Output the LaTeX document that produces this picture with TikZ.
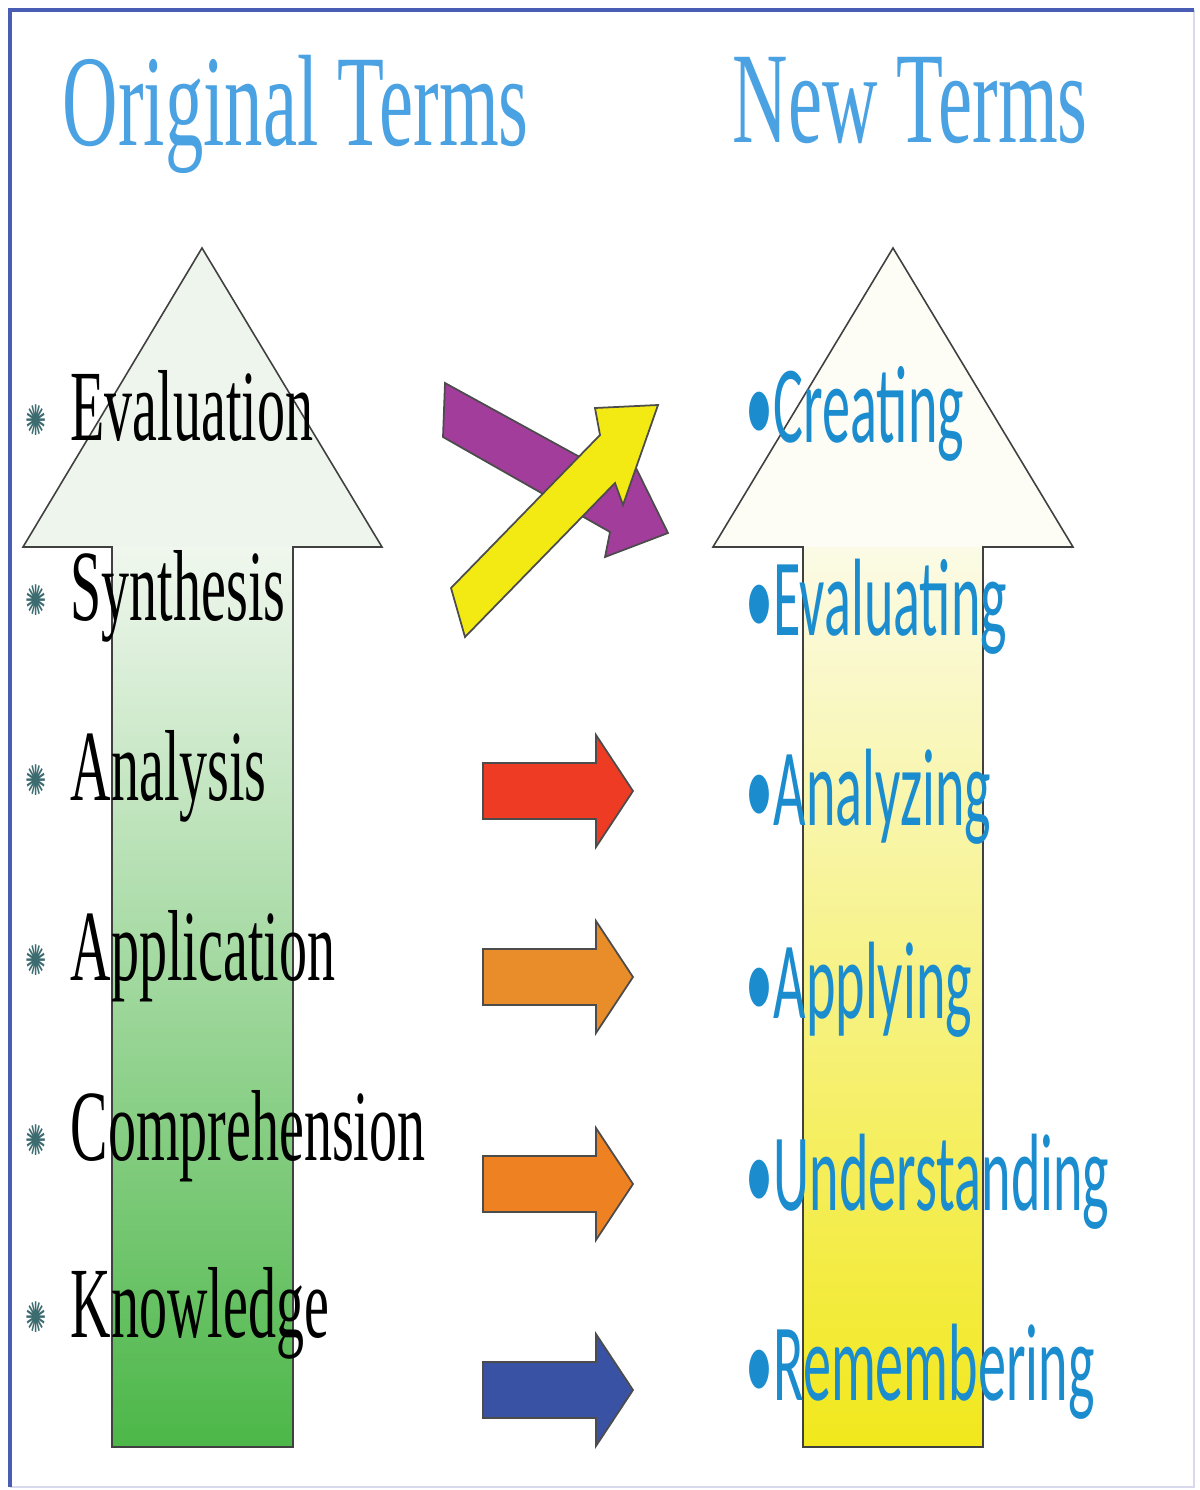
\documentclass[tikz,border=0pt]{standalone}
\usepackage{fontspec}
\setmainfont{Liberation Serif}
\newfontfamily\oldtermfont[FakeStretch=0.555]{Liberation Serif}
\newfontfamily\headingfont[FakeStretch=0.59]{Liberation Serif}
\newfontfamily\newtermfont[FakeStretch=0.51]{Carlito}
\newfontfamily\bulletfont[FakeStretch=0.6]{DejaVu Sans}
\usepackage{tikz}
\usetikzlibrary{positioning}

\definecolor{frameblue}{HTML}{4A5DB5}
\definecolor{framefaint}{HTML}{D9D9EE}
\definecolor{headingblue}{HTML}{4AA2E3}
\definecolor{termblue}{HTML}{1B8DCF}
\definecolor{bulletteal}{HTML}{3C6C70}
\definecolor{oldhead}{HTML}{EEF5EC}
\definecolor{oldtop}{HTML}{F0F7EE}
\definecolor{oldbottom}{HTML}{4CB748}
\definecolor{newhead}{HTML}{FDFDF6}
\definecolor{newtop}{HTML}{FBFBE6}
\definecolor{newbottom}{HTML}{F2E81C}
\definecolor{arrowred}{HTML}{EE3B24}
\definecolor{arrowamber}{HTML}{E98C2A}
\definecolor{arroworange}{HTML}{EE8122}
\definecolor{arrowblue}{HTML}{3A52A4}
\definecolor{arrowpurple}{HTML}{A23D9B}
\definecolor{arrowyellow}{HTML}{F2EA12}

\begin{document}
\begin{tikzpicture}[x=0.01cm, y=-0.01cm,
		bigarrow/.style={draw=black!75, line width=0.45pt, line join=miter},
		blockarrow/.style={draw=black!70, line width=0.5pt, line join=miter},
		heading/.style={anchor=base west, inner sep=0pt, text=headingblue, font=\headingfont\fontsize{37}{40}\selectfont},
		oldterm/.style={anchor=base west, inner sep=0pt, font=\oldtermfont\fontsize{28.7}{30}\selectfont},
		newterm/.style={anchor=base west, inner sep=0pt, text=termblue, font=\newtermfont\fontsize{31.3}{33}\selectfont},
		termbullet/.style={inner sep=0pt, text=bulletteal, font=\bulletfont\fontsize{12}{12}\selectfont}
		]

		\useasboundingbox (0,0) rectangle (1200,1490);
		\fill[white] (0,0) rectangle (1200,1490);

		% --- cadre ---
		\draw[framefaint, line width=0.5pt] (1194,10) -- (1194,1487) -- (10,1487);
		\draw[frameblue, line width=1.2pt] (10,1487) -- (10,10) -- (1194,10);

		% --- titres ---
		\node[heading] (oldtitle) at (62,145) {Original Terms};
		\node[heading] (newtitle) at (732,142) {New Terms};

		% --- grande fleche verte (gauche) ---
		\fill[oldhead] (202,248) -- (382,547) -- (23,547) -- cycle;
		\shade[top color=oldtop, bottom color=oldbottom] (112,547) rectangle (293,1447);
		\draw[bigarrow] (202,248) -- (382,547) -- (293,547) -- (293,1447)
			-- (112,1447) -- (112,547) -- (23,547) -- cycle;

		% --- grande fleche jaune (droite) ---
		\fill[newhead] (893,248) -- (1073,547) -- (713,547) -- cycle;
		\shade[top color=newtop, bottom color=newbottom] (803,547) rectangle (983,1447);
		\draw[bigarrow] (893,248) -- (1073,547) -- (983,547) -- (983,1447)
			-- (803,1447) -- (803,547) -- (713,547) -- cycle;

		% --- fleches croisees ---
		\draw[blockarrow, fill=arrowpurple] (445,383) -- (618,478) -- (636,468) -- (668,533)
			-- (605,557) -- (610,532) -- (443,437) -- cycle;
		\draw[blockarrow, fill=arrowyellow] (465,637) -- (615,483) -- (623,505) -- (658,405)
			-- (595,408) -- (600,435) -- (451,588) -- cycle;

		% --- petites fleches ---
		\foreach \y/\col in {791/arrowred, 977/arrowamber, 1184/arroworange, 1390/arrowblue}
			\draw[blockarrow, fill=\col] (483,\y-28) -- (596,\y-28) -- (596,\y-56) -- (633,\y)
				-- (596,\y+56) -- (596,\y+28) -- (483,\y+28) -- cycle;

		% --- anciens termes ---
		\foreach \y [count=\i] in {420,600,780,960,1140,1317}
			\node[termbullet] (bul\i) at (36,\y) {✺};
		\node[oldterm] (evaluation) at (70,440) {Evaluation};
		\node[oldterm] (synthesis) at (70,620) {Synthesis};
		\node[oldterm] (analysis) at (70,800) {Analysis};
		\node[oldterm] (application) at (70,980) {Application};
		\node[oldterm] (comprehension) at (70,1160) {Comprehension};
		\node[oldterm] (knowledge) at (70,1337) {Knowledge};

		% --- nouveaux termes ---
		\node[newterm] (creating) at (745,442) {•Creating};
		\node[newterm] (evaluating) at (745,635) {•Evaluating};
		\node[newterm] (analyzing) at (745,825) {•Analyzing};
		\node[newterm] (applying) at (745,1018) {•Applying};
		\node[newterm] (understanding) at (745,1210) {•Understanding};
		\node[newterm] (remembering) at (745,1400) {•Remembering};

	\end{tikzpicture}
\end{document}
